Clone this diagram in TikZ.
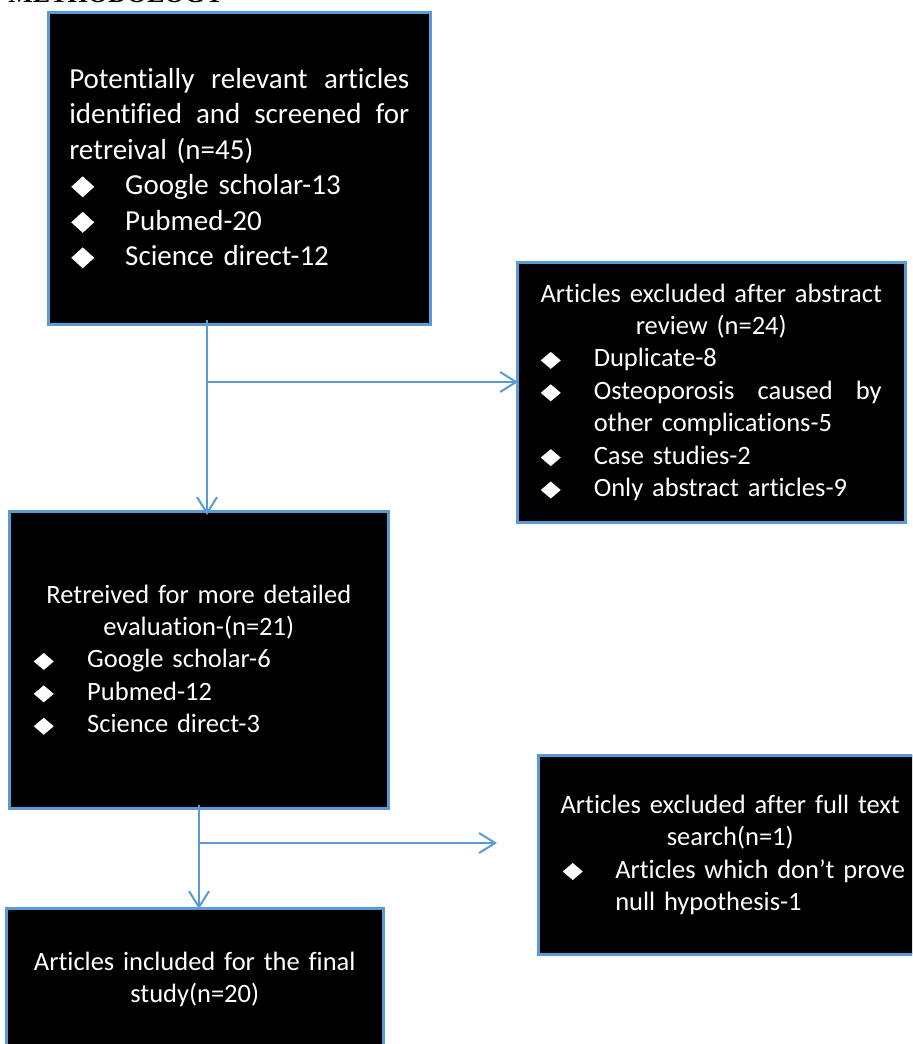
\documentclass[tikz,border=0pt]{standalone}
\usepackage{fontspec}
\setmainfont{Carlito}[Ligatures=CommonOff]
\newfontfamily\titlefont{Liberation Serif}[BoldFont={Liberation Serif Bold}]
\usetikzlibrary{arrows.meta,calc}
\definecolor{obl}{HTML}{5B9BD5}
\newcommand\dia[3]{\raisebox{#3}{\scalebox{1}[#2]{\rotatebox{45}{\rule{#1}{#1}}}}}
\newcommand\bigdia{\dia{8.13pt}{0.913}{-1.25pt}}
\newcommand\smdia{\dia{7.07pt}{0.85}{-1pt}}
\newcommand\jline[1]{\hbox to\hsize{#1}}
\newcommand\ctrline[1]{\hbox to\hsize{\hss#1\hss}}
\newcommand\bline[3]{\hbox to\hsize{\makebox[#1][l]{#2}#3\hss}}
\begin{document}
\begin{tikzpicture}[x=0.5pt,y=-0.5pt,
  box/.style={draw=obl, line width=1.25pt, fill=black, text=white,
    anchor=north west, inner sep=0pt, rectangle},
  bigtext/.style={font=\fontsize{14.5pt}{17.75pt}\selectfont},
  smtext/.style={font=\fontsize{13.25pt}{16.2pt}\selectfont},
  arr/.style={draw=obl, line width=1pt, -{Straight Barb[length=8pt,width=10pt,line width=1pt]}},
  conn/.style={draw=obl, line width=1pt}]
\useasboundingbox (0,0) rectangle (912,1044);
\clip (0,0) rectangle (912,1044);
\node[anchor=base west, inner sep=0pt, font=\titlefont\bfseries\fontsize{13pt}{15pt}\selectfont] (title) at (8,3) {METHODOLOGY};
% box 1
\node[box, bigtext, minimum width=191pt, minimum height=156pt, text width=170pt] (b1) at (47,11) {%
\jline{Potentially\hfill relevant\hfill articles}
\jline{identified\hfill and\hfill screened\hfill for}
\hbox{retreival (n=45)}
\bline{28pt}{\hspace{1pt}\bigdia}{Google scholar-13}
\bline{28pt}{\hspace{1pt}\bigdia}{Pubmed-20}
\bline{28pt}{\hspace{1pt}\bigdia}{Science direct-12}};
% box 2
\node[box, smtext, minimum width=194pt, minimum height=130pt, text width=170.5pt] (b2) at (516,261) {%
\ctrline{Articles excluded after abstract}
\ctrline{review (n=24)}
\bline{26.5pt}{\smdia}{Duplicate-8}
\hbox to\hsize{\makebox[26.5pt][l]{\smdia}Osteoporosis\hfill caused\hfill by}
\hbox{\hspace{26.5pt}other complications-5}
\bline{26.5pt}{\smdia}{Case studies-2}
\bline{26.5pt}{\smdia}{Only abstract articles-9}};
% box 3
\node[box, smtext, minimum width=189.5pt, minimum height=148.5pt, text width=165pt] (b3) at (8,510) {%
\ctrline{Retreived for more detailed}
\ctrline{evaluation-(n=21)}
\bline{26.75pt}{\smdia}{Google scholar-6}
\bline{26.75pt}{\smdia}{Pubmed-12}
\bline{26.75pt}{\smdia}{Science direct-3}};
% box 4
\node[box, smtext, minimum width=192pt, minimum height=99.5pt, text width=167.5pt] (b4) at (537,754) {%
\ctrline{Articles excluded after full text}
\ctrline{search(n=1)}
\bline{26.25pt}{\smdia}{Articles which don’t prove}
\hbox{\hspace{26.25pt}null hypothesis-1}};
% box 5
\node[box, smtext, minimum width=188.5pt, minimum height=71pt, text width=170pt] (b5) at (5,907) {%
\ctrline{Articles included for the final}
\ctrline{study(n=20)}};
% connectors
\coordinate (t1) at (207,382);
\coordinate (t2) at (199,843);
\coordinate (e2) at (497,843);
\draw[arr] ([yshift=3pt]b1.south -| t1) -- ([yshift=-2.5pt]b3.north -| t1);
\draw[arr] (t1) -- ([xshift=1pt]t1 -| b2.west);
\draw[arr] ([yshift=2.5pt]b3.south -| t2) -- ([yshift=-1pt]b5.north -| t2);
\draw[arr] (t2) -- (e2);
\end{tikzpicture}
\end{document}
